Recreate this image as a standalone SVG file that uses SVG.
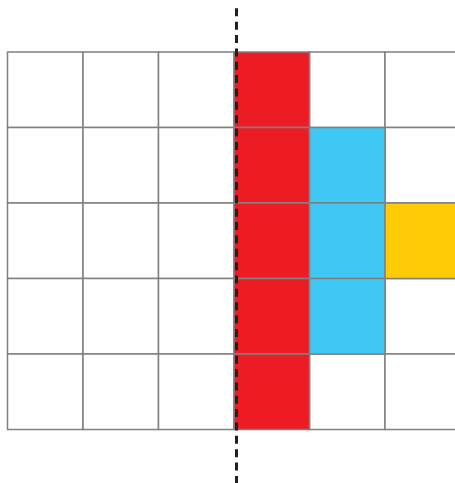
<svg xmlns="http://www.w3.org/2000/svg" width="455" height="483" viewBox="0 0 455 483">
<style>
.cell{fill:#ffffff;stroke:#808080;stroke-width:1.5}
.red{fill:#ED1C24;stroke:#808080;stroke-width:1.5}
.blue{fill:#40C8F4;stroke:#808080;stroke-width:1.5}
.yellow{fill:#FFCB05;stroke:#808080;stroke-width:1.5}
.axis{stroke:#231F20;stroke-width:3;stroke-dasharray:8 5.36;fill:none}
</style>
<rect width="455" height="483" fill="#ffffff"/>
<g id="grid">
<rect class="cell" x="7.5" y="52" width="75.5" height="75.5"/>
<rect class="cell" x="83" y="52" width="75.5" height="75.5"/>
<rect class="cell" x="158.5" y="52" width="75.5" height="75.5"/>
<rect class="cell" x="309.5" y="52" width="75.5" height="75.5"/>
<rect class="cell" x="385" y="52" width="75.5" height="75.5"/>
<rect class="cell" x="7.5" y="127.5" width="75.5" height="75.5"/>
<rect class="cell" x="83" y="127.5" width="75.5" height="75.5"/>
<rect class="cell" x="158.5" y="127.5" width="75.5" height="75.5"/>
<rect class="cell" x="385" y="127.5" width="75.5" height="75.5"/>
<rect class="cell" x="7.5" y="203" width="75.5" height="75.5"/>
<rect class="cell" x="83" y="203" width="75.5" height="75.5"/>
<rect class="cell" x="158.5" y="203" width="75.5" height="75.5"/>
<rect class="cell" x="7.5" y="278.5" width="75.5" height="75.5"/>
<rect class="cell" x="83" y="278.5" width="75.5" height="75.5"/>
<rect class="cell" x="158.5" y="278.5" width="75.5" height="75.5"/>
<rect class="cell" x="385" y="278.5" width="75.5" height="75.5"/>
<rect class="cell" x="7.5" y="354" width="75.5" height="75.5"/>
<rect class="cell" x="83" y="354" width="75.5" height="75.5"/>
<rect class="cell" x="158.5" y="354" width="75.5" height="75.5"/>
<rect class="cell" x="309.5" y="354" width="75.5" height="75.5"/>
<rect class="cell" x="385" y="354" width="75.5" height="75.5"/>
</g>
<g id="red-column">
<rect class="red" x="234" y="52" width="75.5" height="75.5"/>
<rect class="red" x="234" y="127.5" width="75.5" height="75.5"/>
<rect class="red" x="234" y="203" width="75.5" height="75.5"/>
<rect class="red" x="234" y="278.5" width="75.5" height="75.5"/>
<rect class="red" x="234" y="354" width="75.5" height="75.5"/>
</g>
<g id="blue-column">
<rect class="blue" x="309.5" y="127.5" width="75.5" height="75.5"/>
<rect class="blue" x="309.5" y="203" width="75.5" height="75.5"/>
<rect class="blue" x="309.5" y="278.5" width="75.5" height="75.5"/>
</g>
<g id="yellow-cell">
<rect class="yellow" x="385" y="203" width="75.5" height="75.5"/>
</g>
<g id="connectors">
<line class="axis" x1="236.5" y1="8.3" x2="236.5" y2="483"/>
</g>
</svg>
